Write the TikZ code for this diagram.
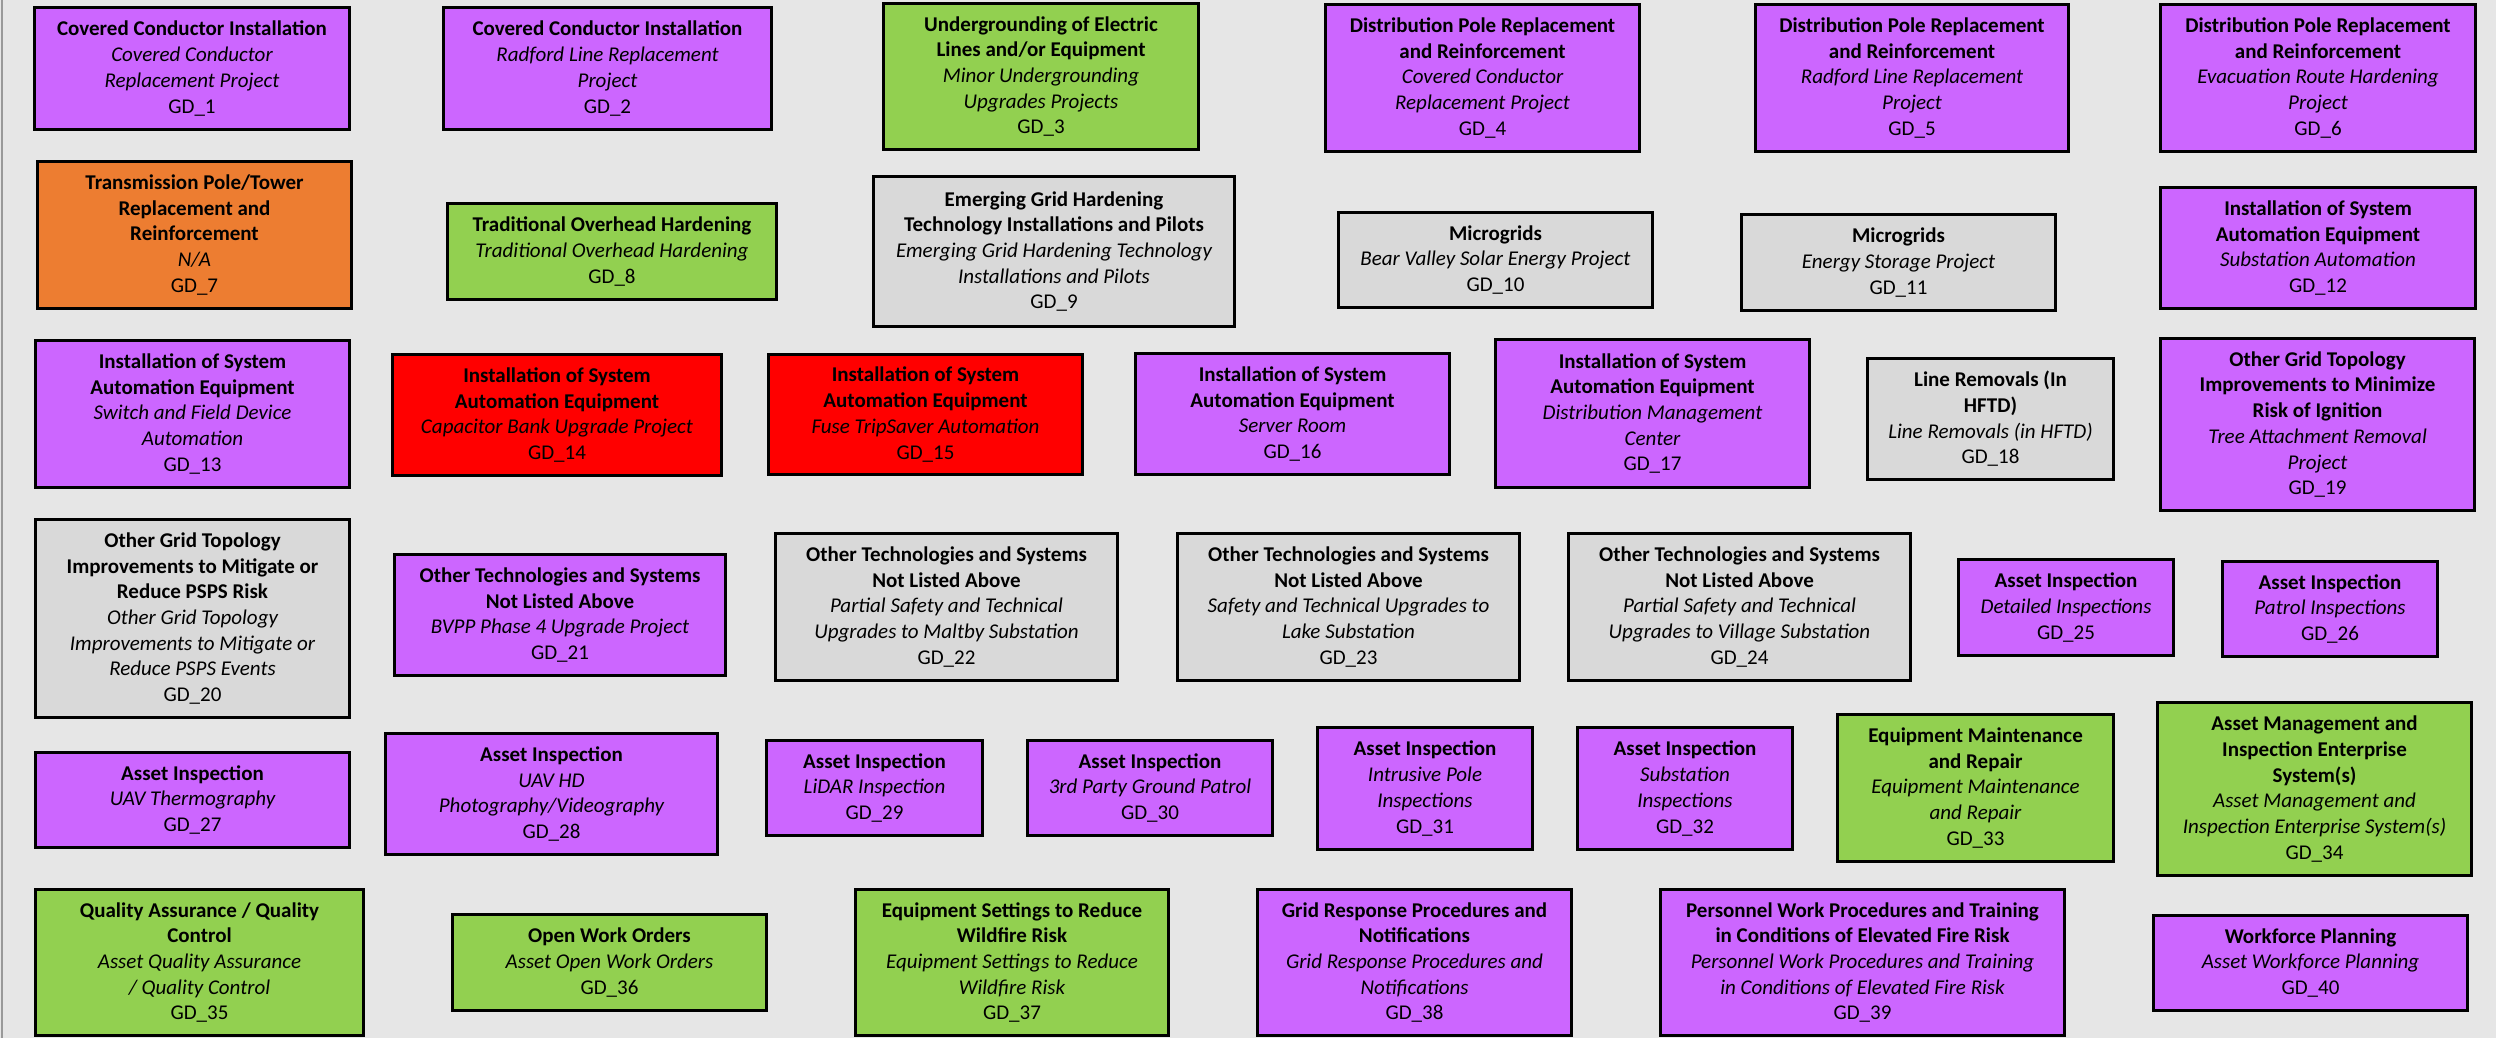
\documentclass[tikz,border=0pt]{standalone}
\usepackage{fontspec}
\setmainfont{Carlito}
\definecolor{pur}{HTML}{CC66FF}
\definecolor{grn}{HTML}{92D050}
\definecolor{org}{HTML}{ED7D31}
\definecolor{rd}{HTML}{FF0000}
\definecolor{gry}{HTML}{D9D9D9}
\definecolor{bgc}{HTML}{E6E6E6}
\tikzset{
  gdb/.style={draw=black, line width=3pt, inner sep=0pt,
    font=\fontsize{21}{25.7}\selectfont}
}
\newcommand\gdbox[9]{%
  \node[gdb, fill=#2, minimum width={#5pt-#3pt-3pt}, minimum height={#6pt-#4pt-3pt}]
    (#1) at ({(#3+#5)/2},{(#4+#6)/2})
    {\parbox{\dimexpr #5pt-#3pt-6pt\relax}{\centering\bfseries #7\\ \mdseries\itshape #8\\ \upshape #9}};}
\begin{document}
\begin{tikzpicture}[x=1pt,y=-1pt]
\fill[bgc] (0,0) rectangle (2496,1038);
\useasboundingbox (0,0) rectangle (2496,1038);
\draw[black!40, line width=2pt] (2,0) -- (2,1038);
\gdbox{g1}{pur}{33}{6}{351}{131}{Covered Conductor Installation}{Covered Conductor\\Replacement Project}{GD\_1}
\gdbox{g2}{pur}{442}{6}{773}{131}{Covered Conductor Installation}{Radford Line Replacement\\Project}{GD\_2}
\gdbox{g3}{grn}{882}{2}{1200}{151}{Undergrounding of Electric\\Lines and/or Equipment}{Minor Undergrounding\\Upgrades Projects}{GD\_3}
\gdbox{g4}{pur}{1324}{3}{1641}{153}{Distribution Pole Replacement\\and Reinforcement}{Covered Conductor\\Replacement Project}{GD\_4}
\gdbox{g5}{pur}{1754}{3}{2070}{153}{Distribution Pole Replacement\\and Reinforcement}{Radford Line Replacement\\Project}{GD\_5}
\gdbox{g6}{pur}{2159}{3}{2477}{153}{Distribution Pole Replacement\\and Reinforcement}{Evacuation Route Hardening\\Project}{GD\_6}
\gdbox{g7}{org}{36}{160}{353}{310}{Transmission Pole/Tower\\Replacement and\\Reinforcement}{N/A}{GD\_7}
\gdbox{g8}{grn}{446}{202}{778}{301}{Traditional Overhead Hardening}{Traditional Overhead Hardening}{GD\_8}
\gdbox{g9}{gry}{872}{175}{1236}{328}{Emerging Grid Hardening\\Technology Installations and Pilots}{Emerging Grid Hardening Technology\\Installations and Pilots}{GD\_9}
\gdbox{g10}{gry}{1337}{211}{1654}{309}{Microgrids}{Bear Valley Solar Energy Project}{GD\_10}
\gdbox{g11}{gry}{1740}{213}{2057}{312}{Microgrids}{Energy Storage Project}{GD\_11}
\gdbox{g12}{pur}{2159}{186}{2477}{310}{Installation of System\\Automation Equipment}{Substation Automation}{GD\_12}
\gdbox{g13}{pur}{34}{339}{351}{489}{Installation of System\\Automation Equipment}{Switch and Field Device\\Automation}{GD\_13}
\gdbox{g14}{rd}{391}{353}{723}{477}{Installation of System\\Automation Equipment}{Capacitor Bank Upgrade Project}{GD\_14}
\gdbox{g15}{rd}{767}{353}{1084}{476}{Installation of System\\Automation Equipment}{Fuse TripSaver Automation}{GD\_15}
\gdbox{g16}{pur}{1134}{352}{1451}{476}{Installation of System\\Automation Equipment}{Server Room}{GD\_16}
\gdbox{g17}{pur}{1494}{338}{1811}{489}{Installation of System\\Automation Equipment}{Distribution Management\\Center}{GD\_17}
\gdbox{g18}{gry}{1866}{357}{2115}{481}{Line Removals (In\\HFTD)}{Line Removals (in HFTD)}{GD\_18}
\gdbox{g19}{pur}{2159}{337}{2476}{512}{Other Grid Topology\\Improvements to Minimize\\Risk of Ignition}{Tree Attachment Removal\\Project}{GD\_19}
\gdbox{g20}{gry}{34}{518}{351}{719}{Other Grid Topology\\Improvements to Mitigate or\\Reduce PSPS Risk}{Other Grid Topology\\Improvements to Mitigate or\\Reduce PSPS Events}{GD\_20}
\gdbox{g21}{pur}{393}{553}{727}{677}{Other Technologies and Systems\\Not Listed Above}{BVPP Phase 4 Upgrade Project}{GD\_21}
\gdbox{g22}{gry}{774}{532}{1119}{682}{Other Technologies and Systems\\Not Listed Above}{Partial Safety and Technical\\Upgrades to Maltby Substation}{GD\_22}
\gdbox{g23}{gry}{1176}{532}{1521}{682}{Other Technologies and Systems\\Not Listed Above}{Safety and Technical Upgrades to\\Lake Substation}{GD\_23}
\gdbox{g24}{gry}{1567}{532}{1912}{682}{Other Technologies and Systems\\Not Listed Above}{Partial Safety and Technical\\Upgrades to Village Substation}{GD\_24}
\gdbox{g25}{pur}{1957}{558}{2175}{657}{Asset Inspection}{Detailed Inspections}{GD\_25}
\gdbox{g26}{pur}{2221}{560}{2439}{658}{Asset Inspection}{Patrol Inspections}{GD\_26}
\gdbox{g27}{pur}{34}{751}{351}{849}{Asset Inspection}{UAV Thermography}{GD\_27}
\gdbox{g28}{pur}{384}{732}{719}{856}{Asset Inspection}{UAV HD\\Photography/Videography}{GD\_28}
\gdbox{g29}{pur}{765}{739}{984}{837}{Asset Inspection}{LiDAR Inspection}{GD\_29}
\gdbox{g30}{pur}{1026}{739}{1274}{837}{Asset Inspection}{3rd Party Ground Patrol}{GD\_30}
\gdbox{g31}{pur}{1316}{726}{1534}{851}{Asset Inspection}{Intrusive Pole\\Inspections}{GD\_31}
\gdbox{g32}{pur}{1576}{726}{1794}{851}{Asset Inspection}{Substation\\Inspections}{GD\_32}
\gdbox{g33}{grn}{1836}{713}{2115}{863}{Equipment Maintenance\\and Repair}{Equipment Maintenance\\and Repair}{GD\_33}
\gdbox{g34}{grn}{2156}{701}{2473}{877}{Asset Management and\\Inspection Enterprise\\System(s)}{Asset Management and\\Inspection Enterprise System(s)}{GD\_34}
\gdbox{g35}{grn}{34}{888}{365}{1037}{Quality Assurance / Quality\\Control}{Asset Quality Assurance\\/ Quality Control}{GD\_35}
\gdbox{g36}{grn}{451}{913}{768}{1012}{Open Work Orders}{Asset Open Work Orders}{GD\_36}
\gdbox{g37}{grn}{854}{888}{1170}{1037}{Equipment Settings to Reduce\\Wildfire Risk}{Equipment Settings to Reduce\\Wildfire Risk}{GD\_37}
\gdbox{g38}{pur}{1256}{888}{1573}{1037}{Grid Response Procedures and\\Notifications}{Grid Response Procedures and\\Notifications}{GD\_38}
\gdbox{g39}{pur}{1659}{888}{2066}{1037}{Personnel Work Procedures and Training\\in Conditions of Elevated Fire Risk}{Personnel Work Procedures and Training\\in Conditions of Elevated Fire Risk}{GD\_39}
\gdbox{g40}{pur}{2152}{914}{2469}{1012}{Workforce Planning}{Asset Workforce Planning}{GD\_40}
\end{tikzpicture}
\end{document}
